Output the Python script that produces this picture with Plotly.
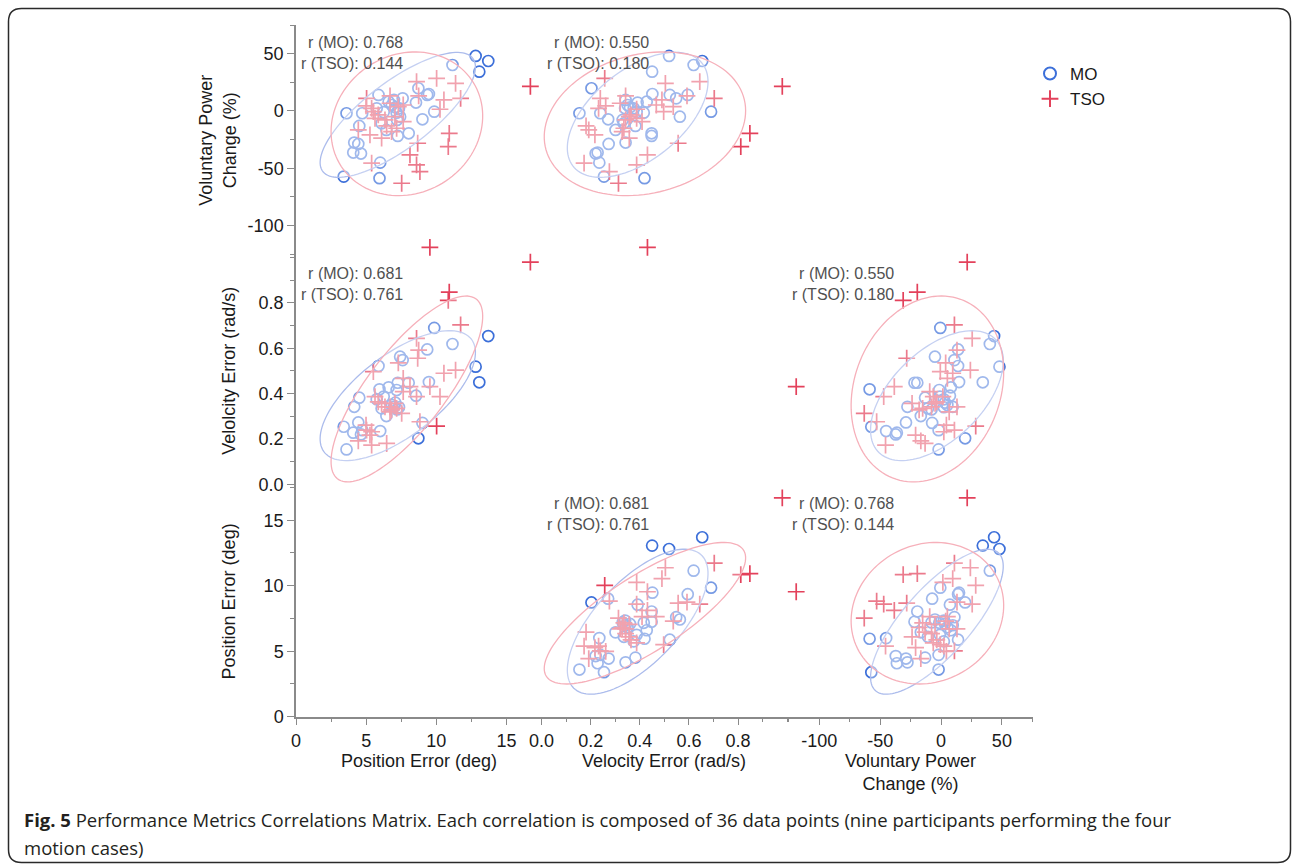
import numpy as np
import plotly.graph_objects as go

W, H = 1292, 864

# ---------------- data ----------------
mo_pos_err = [3.4, 3.6, 4.08, 4.15, 4.44, 4.51, 4.63, 4.72, 5.75, 5.88, 5.95, 6.0,
              6.10, 6.25, 6.44, 6.6, 6.83, 6.98, 7.08, 7.17, 7.2, 7.25, 7.34, 7.42,
              7.6, 8.03, 8.55, 8.72, 9.01, 9.35, 9.47, 9.85, 11.15, 12.8, 13.06, 13.7]
mo_vel_err = [0.254, 0.154, 0.228, 0.342, 0.273, 0.382, 0.220, 0.239, 0.375, 0.522, 0.419, 0.235,
              0.335, 0.387, 0.301, 0.428, 0.350, 0.342, 0.360, 0.416, 0.330, 0.448, 0.340, 0.563,
              0.548, 0.448, 0.391, 0.203, 0.271, 0.595, 0.451, 0.690, 0.619, 0.519, 0.450, 0.654]
mo_vpc = [-57.3, -2.0, -36.3, -27.6, -28.8, -13.1, -37.2, -2.0, 2.3, 14.0, -58.7, -45.1,
          -10.8, -1.0, -16.6, 8.1, 5.2, 9.6, 3.2, -1.5, -7.8, -21.8, 2.3, -5.0,
          11.0, -19.5, 7.3, 19.8, -7.3, 14.0, 14.8, -0.6, 40.1, 48.0, 34.3, 43.6]

tso_pos_err = [4.44, 4.99, 5.03, 5.27, 5.39, 5.39, 5.51, 5.63, 5.86, 6.10, 6.34, 6.46,
               6.70, 6.70, 6.81, 7.05, 7.17, 7.29, 7.53, 7.64, 7.64, 8.12, 8.59, 8.59,
               8.67, 8.74, 8.83, 10.02, 10.26, 10.54, 10.85, 10.92, 11.37, 11.73, 9.54, 16.7]
tso_vel_err = [0.192, 0.261, 0.239, 0.217, 0.173, 0.232, 0.497, 0.387, 0.364, 0.357, 0.342, 0.181,
               0.342, 0.320, 0.328, 0.357, 0.335, 0.536, 0.313, 0.467, 0.409, 0.431, 0.644, 0.387,
               0.556, 0.592, 0.276, 0.257, 0.387, 0.490, 0.811, 0.848, 0.504, 0.703, 0.431, 0.98]
tso_vpc = [-16.6, 4.4, 11.0, -20.9, -45.6, 2.3, -0.6, -6.4, -3.5, -23.8, -7.8, -13.1,
           13.1, 6.7, -18.0, -4.9, -15.1, 3.8, -63.1, 5.2, -9.3, -38.4, 25.6, -47.1,
           -28.2, 13.1, -52.9, 28.5, 1.5, 9.6, -31.1, -19.5, 24.1, 11.0, -119.0, 21.5]

series_names = ["MO", "TSO"]

# correlation labels for each variable pair
r_pos_vpc = [0.768, 0.144]
r_vel_vpc = [0.550, 0.180]
r_pos_vel = [0.681, 0.761]

var_labels = {
    "pos": "Position Error (deg)",
    "vel": "Velolcity Error (rad/s)",
    "vpc": "Voluntary Power<br>Change (%)",
}
x_title_labels = ["Position Error (deg)", "Velocity Error (rad/s)", "Voluntary Power<br>Change (%)"]

pos_ticks = [0, 5, 10, 15]
vel_ticks = [0.0, 0.2, 0.4, 0.6, 0.8]
vpc_ticks = [-100, -50, 0, 50]
pos_minor = [2.5, 7.5, 12.5, 17.5]
vel_minor = [0.1, 0.3, 0.5, 0.7, 0.9, 1.0]
vpc_minor = [-125, -75, -25, 25, 75]

caption_bold = "Fig. 5"
caption_line1 = " Performance Metrics Correlations Matrix. Each correlation is composed of 36 data points (nine participants performing the four"
caption_line2 = "motion cases)"

# ---------------- styling ----------------
FONT = "Liberation Sans"
AX_COL = "#8a8a8a"
MO_COL = "#3c6fd9"
TSO_COL = "#e3415b"
MO_ELL = "rgb(172,188,236)"
TSO_ELL = "rgb(246,176,186)"

data = {
    "MO": {"pos": mo_pos_err, "vel": mo_vel_err, "vpc": mo_vpc},
    "TSO": {"pos": tso_pos_err, "vel": tso_vel_err, "vpc": tso_vpc},
}

# pixel geometry of the matrix
x0, cw = 296.0, 245.6
y0, rh = 25.0, 230.57


def xdom(c):
    return [(x0 + c * cw) / W, (x0 + (c + 1) * cw) / W]


def ydom(r):
    return [1 - (y0 + (r + 1) * rh) / H, 1 - (y0 + r * rh) / H]


# panels: (y axis, x axis, x var, y var, r list)
panels = [
    ("y", "x", "pos", "vpc", r_pos_vpc),
    ("y", "x2", "vel", "vpc", r_vel_vpc),
    ("y2", "x", "pos", "vel", r_pos_vel),
    ("y2", "x3", "vpc", "vel", r_vel_vpc),
    ("y3", "x2", "vel", "pos", r_pos_vel),
    ("y3", "x3", "vpc", "pos", r_pos_vpc),
]

CHI2 = 4.605  # 90% bivariate normal density ellipse


def ellipse_path(xs, ys, n=120):
    xs = np.asarray(xs, float)
    ys = np.asarray(ys, float)
    m = np.array([xs.mean(), ys.mean()])
    cov = np.cov(np.vstack([xs, ys]))
    vals, vecs = np.linalg.eigh(cov)
    t = np.linspace(0, 2 * np.pi, n)
    circ = np.vstack([np.cos(t), np.sin(t)])
    pts = (vecs @ np.diag(np.sqrt(vals * CHI2)) @ circ).T + m
    return "M " + " L ".join(f"{px:.5f},{py:.5f}" for px, py in pts) + " Z"


fig = go.Figure()
shapes = []
annotations = []

for i, (ya, xa, xv, yv, rr) in enumerate(panels):
    for name, col, ecol, sym, size in [("MO", MO_COL, MO_ELL, "circle-open", 11),
                                        ("TSO", TSO_COL, TSO_ELL, "cross-thin-open", 12)]:
        d = data[name]
        fig.add_trace(go.Scatter(
            x=d[xv], y=d[yv], mode="markers", name=name,
            xaxis=xa, yaxis=ya, legendgroup=name, showlegend=(i == 0),
            cliponaxis=False,
            marker=dict(symbol=sym, size=size, color=col,
                        line=dict(width=1.7, color=col)),
            hoverinfo="skip",
        ))
        shapes.append(dict(type="path", path=ellipse_path(d[xv], d[yv]),
                           xref=xa, yref=ya, layer="above",
                           line=dict(color=ecol, width=1.3),
                           fillcolor="rgba(255,255,255,0.30)"))
    annotations.append(dict(
        xref=f"{xa} domain", yref=f"{ya} domain", x=109 / cw, y=1 - 28 / rh,
        xanchor="right", yanchor="middle", align="right", showarrow=False,
        text=f"r (MO): {rr[0]:.3f}<br>r (TSO): {rr[1]:.3f}",
        font=dict(family=FONT, size=16, color="#505050")))


def axis(domain, rng, ticks, minor, fmt, anchor, side):
    return dict(domain=domain, range=rng, anchor=anchor, side=side, automargin=False,
                showline=True, linecolor=AX_COL, linewidth=1.5,
                ticks="outside", ticklen=7, tickwidth=1.2, tickcolor=AX_COL,
                tickmode="array", tickvals=ticks, ticktext=[fmt.format(t) for t in ticks],
                minor=dict(tickmode="array", tickvals=minor, ticks="outside",
                           ticklen=4, tickwidth=1, tickcolor=AX_COL, showgrid=False),
                showgrid=False, zeroline=False, fixedrange=True,
                tickfont=dict(family=FONT, size=18, color="#1a1a1a"))


layout_axes = dict(
    xaxis=axis(xdom(0), [0, 17.5], pos_ticks, pos_minor, "{:g}", "y3", "bottom"),
    xaxis2=axis(xdom(1), [0, 1.0], vel_ticks, vel_minor, "{:.1f}", "y3", "bottom"),
    xaxis3=axis(xdom(2), [-126.4, 75.4], vpc_ticks, vpc_minor, "{:g}", "y3", "bottom"),
    yaxis=axis(ydom(0), [-126.2, 75.0], vpc_ticks, vpc_minor, "{:g}", "x", "left"),
    yaxis2=axis(ydom(1), [-0.008, 1.009], vel_ticks, vel_minor, "{:.1f}", "x", "left"),
    yaxis3=axis(ydom(2), [0, 17.6], pos_ticks, pos_minor, "{:g}", "x", "left"),
)

# axis titles
for c, lab in enumerate(x_title_labels):
    annotations.append(dict(xref="paper", yref="paper", x=(x0 + (c + 0.5) * cw) / W,
                            y=1 - 749 / H, xanchor="center", yanchor="top", showarrow=False,
                            text=lab, font=dict(family=FONT, size=18, color="#1a1a1a")))
for r, key in enumerate(["vpc", "vel", "pos"]):
    annotations.append(dict(xref="paper", yref="paper", x=241 / W,
                            y=1 - (y0 + (r + 0.5) * rh) / H, xanchor="right", yanchor="middle",
                            textangle=-90, showarrow=False, text=var_labels[key],
                            font=dict(family=FONT, size=18, color="#1a1a1a")))

# caption
annotations.append(dict(xref="paper", yref="paper", x=22 / W, y=1 - 819 / H,
                        xanchor="left", yanchor="middle", showarrow=False, align="left",
                        text=f"<b>{caption_bold}</b>{caption_line1}",
                        font=dict(family="Open Sans", size=18.5, color="#231f20")))
annotations.append(dict(xref="paper", yref="paper", x=22 / W, y=1 - 847 / H,
                        xanchor="left", yanchor="middle", showarrow=False, align="left",
                        text=caption_line2,
                        font=dict(family="Open Sans", size=18.5, color="#231f20")))

# rounded border box
bx0, by0, bx1, by1, rad = 8.5 / W, 1 - 8.5 / H, 1290.5 / W, 1 - 862.5 / H, 13
rx, ry = rad / W, rad / H
border = (f"M {bx0 + rx},{by0} L {bx1 - rx},{by0} Q {bx1},{by0} {bx1},{by0 - ry} "
          f"L {bx1},{by1 + ry} Q {bx1},{by1} {bx1 - rx},{by1} "
          f"L {bx0 + rx},{by1} Q {bx0},{by1} {bx0},{by1 + ry} "
          f"L {bx0},{by0 - ry} Q {bx0},{by0} {bx0 + rx},{by0} Z")
shapes.append(dict(type="path", path=border, xref="paper", yref="paper",
                   line=dict(color="#2a2a2a", width=1.5), layer="below"))

fig.update_layout(
    width=W, height=H, autosize=False,
    margin=dict(l=0, r=0, t=0, b=0, autoexpand=False),
    paper_bgcolor="white", plot_bgcolor="white",
    showlegend=True,
    legend=dict(x=1030 / W, y=1 - 56 / H, xanchor="left", yanchor="top",
                font=dict(family=FONT, size=17, color="#1a1a1a"),
                bgcolor="rgba(0,0,0,0)", tracegroupgap=0, itemsizing="constant"),
    shapes=shapes, annotations=annotations,
    **layout_axes,
)

fig.write_html("out.html", include_plotlyjs=True,
               config={"displayModeBar": False},
               post_script="document.body.style.margin='0';document.body.style.overflow='hidden';")
